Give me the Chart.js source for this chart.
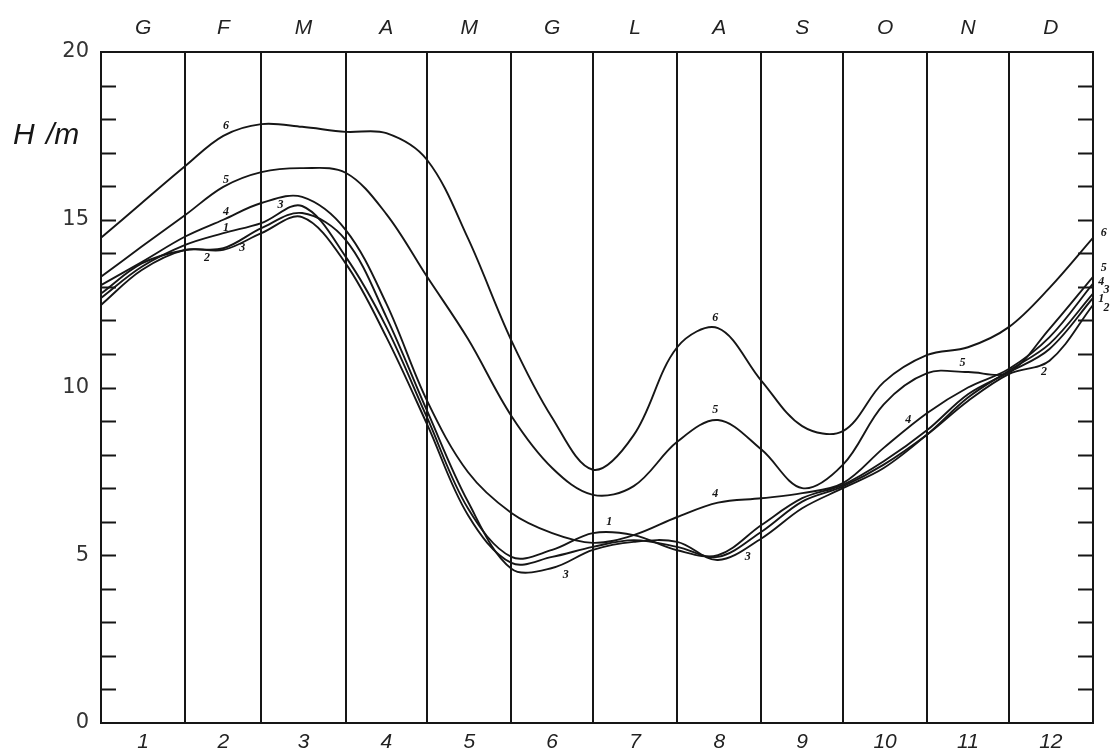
<!DOCTYPE html>
<html>
<head>
<meta charset="utf-8">
<script src="https://cdn.jsdelivr.net/npm/chart.js@4.4.0/dist/chart.umd.min.js"></script>
<style>
  html, body { margin: 0; padding: 0; background: #fff; }
  #wrap { width: 1110px; height: 752px; position: relative; }
</style>
</head>
<body>
<div id="wrap"><canvas id="chart"></canvas></div>
<script>
// day of year for every sampled point
const days = [0, 15, 31, 45, 59, 74, 90, 105, 120, 135, 151, 166, 181, 196, 212, 227, 243, 258, 273, 288, 304, 319, 334, 349, 365];
const monthStarts = [0, 31, 59, 90, 120, 151, 181, 212, 243, 273, 304, 334, 365];
const monthNumbers = ['1', '2', '3', '4', '5', '6', '7', '8', '9', '10', '11', '12'];
const monthLetters = ['G', 'F', 'M', 'A', 'M', 'G', 'L', 'A', 'S', 'O', 'N', 'D'];

// H in metres, one series per curve
const curve1 = [12.67, 13.6, 14.25, 14.6, 14.9, 15.41, 13.9, 11.8, 9.1, 6.4, 4.95, 5.16, 5.66, 5.6, 5.15, 5.0, 5.9, 6.7, 7.1, 7.8, 8.73, 9.8, 10.45, 11.15, 12.67];
const curve2 = [12.46, 13.5, 14.1, 14.1, 14.6, 15.08, 13.7, 11.5, 8.9, 6.2, 4.77, 4.95, 5.25, 5.45, 5.25, 4.95, 5.7, 6.6, 7.05, 7.7, 8.6, 9.6, 10.4, 10.8, 12.46];
const curve3 = [12.8, 13.7, 14.1, 14.15, 14.75, 15.2, 14.4, 12.1, 9.3, 6.6, 4.6, 4.62, 5.16, 5.4, 5.4, 4.86, 5.5, 6.4, 7.0, 7.6, 8.6, 9.7, 10.5, 11.3, 12.8];
const curve4 = [13.05, 13.74, 14.5, 15.0, 15.5, 15.68, 14.7, 12.5, 9.6, 7.48, 6.26, 5.66, 5.37, 5.6, 6.14, 6.57, 6.7, 6.85, 7.15, 8.2, 9.24, 10.0, 10.55, 11.5, 13.1];
const curve5 = [13.3, 14.2, 15.14, 15.98, 16.42, 16.54, 16.4, 15.17, 13.3, 11.45, 9.15, 7.6, 6.8, 7.06, 8.38, 9.03, 8.15, 7.0, 7.7, 9.5, 10.43, 10.46, 10.45, 11.75, 13.3];
const curve6 = [14.46, 15.5, 16.6, 17.5, 17.85, 17.77, 17.62, 17.58, 16.78, 14.45, 11.4, 9.1, 7.55, 8.58, 11.2, 11.77, 10.2, 8.85, 8.7, 10.16, 10.97, 11.2, 11.8, 12.97, 14.46];

// curve numbers written along the lines: [text, day, H]
const curveTags = [
  ['6', 46, 17.8], ['6', 226, 12.07], ['6', 369, 14.6],
  ['5', 46, 16.2], ['5', 226, 9.33], ['5', 317, 10.73], ['5', 369, 13.56],
  ['4', 46, 15.23], ['4', 226, 6.83], ['4', 297, 9.03], ['4', 368, 13.14],
  ['3', 66, 15.44], ['3', 52, 14.16], ['3', 171, 4.41], ['3', 238, 4.95], ['3', 370, 12.9],
  ['1', 46, 14.75], ['1', 187, 5.99], ['1', 368, 12.64],
  ['2', 39, 13.86], ['2', 347, 10.45], ['2', 370, 12.36]
];

const series = [curve1, curve2, curve3, curve4, curve5, curve6];
const monthMids = monthStarts.slice(0, 12).map((d, i) => (d + monthStarts[i + 1]) / 2);
const ink = '#161616';

const insideTicks = {
  id: 'insideTicks',
  afterDraw(chart) {
    const { ctx, chartArea: a, scales } = chart;
    ctx.save();
    ctx.strokeStyle = ink;
    ctx.lineWidth = 2;
    ctx.beginPath();
    for (let v = 1; v < 20; v++) {
      const y = Math.round(scales.y.getPixelForValue(v)) + 0.5;
      ctx.moveTo(a.left, y); ctx.lineTo(a.left + 15, y);
      ctx.moveTo(a.right - 15, y); ctx.lineTo(a.right, y);
    }
    ctx.stroke();
    ctx.restore();
  }
};

const curveNumbers = {
  id: 'curveNumbers',
  afterDatasetsDraw(chart) {
    const { ctx, scales } = chart;
    ctx.save();
    ctx.fillStyle = ink;
    ctx.font = 'italic bold 12px "Liberation Serif"';
    ctx.textAlign = 'center';
    ctx.textBaseline = 'middle';
    curveTags.forEach(([t, d, h]) => {
      ctx.fillText(t, scales.x.getPixelForValue(d), scales.y.getPixelForValue(h));
    });
    // unit label beside the axis
    const yu = scales.y.getPixelForValue(17.5);
    ctx.font = 'italic 30px "Liberation Sans"';
    ctx.textAlign = 'left';
    ctx.fillText('H', 13, yu);
    ctx.fillText('/m', 46, yu);
    ctx.restore();
  }
};

new Chart(document.getElementById('chart'), {
  type: 'line',
  data: {
    datasets: series.map((s, i) => ({
      label: String(i + 1),
      data: s.map((h, j) => ({ x: days[j], y: h })),
      borderColor: ink,
      borderWidth: 1.9,
      pointRadius: 0,
      tension: 0.35,
      fill: false
    }))
  },
  options: {
    responsive: true,
    maintainAspectRatio: false,
    animation: false,
    layout: { padding: 0 },
    plugins: { legend: { display: false }, tooltip: { enabled: false } },
    scales: {
      x: {
        type: 'linear',
        position: 'bottom',
        min: 0,
        max: 365,
        afterBuildTicks: (s) => {
          s.ticks = [...monthStarts, ...monthMids].sort((a, b) => a - b).map(v => ({ value: v }));
        },
        afterFit: (s) => { s.height = 29; },
        ticks: {
          autoSkip: false,
          maxRotation: 0,
          padding: 7,
          color: '#222',
          font: { family: 'Liberation Sans', size: 21, style: 'italic' },
          callback: (v) => {
            const i = monthMids.indexOf(v);
            return i >= 0 ? monthNumbers[i] : '';
          }
        },
        grid: {
          drawTicks: false,
          lineWidth: 2,
          color: (c) => (c.tick && monthStarts.includes(c.tick.value)) ? ink : 'rgba(0,0,0,0)'
        },
        border: { display: true, color: ink, width: 2 }
      },
      xTop: {
        type: 'linear',
        position: 'top',
        min: 0,
        max: 365,
        afterBuildTicks: (s) => { s.ticks = monthMids.map(v => ({ value: v })); },
        afterFit: (s) => { s.height = 52; },
        ticks: {
          autoSkip: false,
          maxRotation: 0,
          padding: 11,
          color: '#222',
          font: { family: 'Liberation Sans', size: 21, style: 'italic' },
          callback: (v) => monthLetters[monthMids.indexOf(v)]
        },
        grid: { display: false, drawTicks: false },
        border: { display: true, color: ink, width: 2 }
      },
      y: {
        position: 'left',
        min: 0,
        max: 20,
        afterFit: (s) => { s.width = 101; },
        ticks: {
          stepSize: 1,
          autoSkip: false,
          padding: 12,
          color: '#333',
          font: { family: 'DejaVu Sans', size: 21 },
          callback: (v) => (v % 5 === 0 ? String(v) : '')
        },
        grid: { drawOnChartArea: false, drawTicks: false },
        border: { display: true, color: ink, width: 2 }
      },
      yRight: {
        position: 'right',
        min: 0,
        max: 20,
        afterFit: (s) => { s.width = 17; },
        ticks: { display: false },
        grid: { display: false, drawTicks: false },
        border: { display: true, color: ink, width: 2 }
      }
    }
  },
  plugins: [insideTicks, curveNumbers]
});
</script>
</body>
</html>
